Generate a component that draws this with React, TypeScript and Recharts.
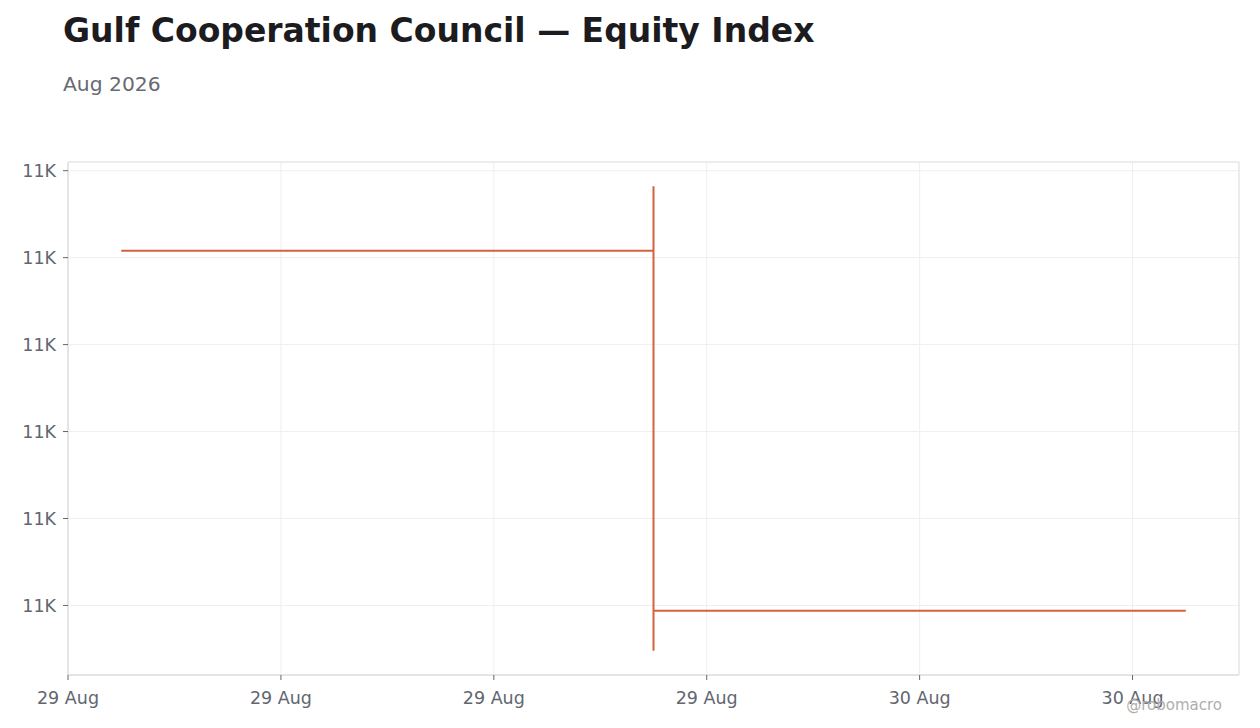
import React from "react";
import {
  ComposedChart, Line, XAxis, YAxis, CartesianGrid, ReferenceArea,
} from "recharts";

// one OHLC bar (index level), 29 Aug 2026
const barTimes = [Date.UTC(2026, 7, 29, 16, 30)];
const opens = [11204];
const highs = [11241];
const lows = [10974];
const closes = [10997];

const xTicks = [0, 6, 12, 18, 24, 30].map((h) => Date.UTC(2026, 7, 29, h));
const yTicks = [11000, 11050, 11100, 11150, 11200, 11250];
const MONTHS = ["Jan", "Feb", "Mar", "Apr", "May", "Jun", "Jul", "Aug", "Sep", "Oct", "Nov", "Dec"];

const HOUR = 3600 * 1000;
const ARM = 15 * HOUR; // open/close tick length
const X_DOMAIN = [Date.UTC(2026, 7, 29, 0), Date.UTC(2026, 7, 30, 9)];
const Y_DOMAIN = [10960, 11255];

const COLOR = "#d4623f";
const FONT = "'DejaVu Sans', sans-serif";

const wick = barTimes.flatMap((t, i) => [{ t, v: lows[i] }, { t, v: highs[i] }]);
const openArm = barTimes.flatMap((t, i) => [{ t: t - ARM, v: opens[i] }, { t, v: opens[i] }]);
const closeArm = barTimes.flatMap((t, i) => [{ t, v: closes[i] }, { t: t + ARM, v: closes[i] }]);

const fmtDate = (t: number) => {
  const d = new Date(t);
  return `${d.getUTCDate()} ${MONTHS[d.getUTCMonth()]}`;
};
const fmtK = (v: number) => `${Math.round(v / 1000)}K`;

export default function App() {
  const tick = { fill: "#62666f", fontSize: 17.5, fontFamily: FONT };
  return (
    <div style={{ position: "relative", width: 1260, height: 728, background: "#fff" }}>
      <style>{`body{margin:0}`}</style>
      <ComposedChart
        width={1260}
        height={728}
        margin={{ top: 162, right: 21, bottom: 0, left: 0 }}
      >
        <CartesianGrid stroke="#efefef" ticks={yTicks} />
        <XAxis
          dataKey="t"
          type="number"
          domain={X_DOMAIN}
          ticks={xTicks}
          tickFormatter={fmtDate}
          allowDataOverflow
          height={53}
          tick={tick}
          tickSize={5}
          tickMargin={12}
          stroke="#dcdcdc"
          tickLine={{ stroke: "#62666f" }}
        />
        <YAxis
          type="number"
          domain={Y_DOMAIN}
          ticks={yTicks}
          tickFormatter={fmtK}
          allowDataOverflow
          width={68}
          tick={tick}
          tickSize={5}
          tickMargin={7}
          stroke="#dcdcdc"
          tickLine={{ stroke: "#62666f" }}
        />
        <ReferenceArea
          x1={X_DOMAIN[0]}
          x2={X_DOMAIN[1]}
          y1={Y_DOMAIN[0]}
          y2={Y_DOMAIN[1]}
          fill="none"
          stroke="#e2e2e2"
          ifOverflow="visible"
        />
        <Line data={wick} dataKey="v" stroke={COLOR} strokeWidth={2} dot={false} activeDot={false} isAnimationActive={false} />
        <Line data={openArm} dataKey="v" stroke={COLOR} strokeWidth={2} dot={false} activeDot={false} isAnimationActive={false} />
        <Line data={closeArm} dataKey="v" stroke={COLOR} strokeWidth={2} dot={false} activeDot={false} isAnimationActive={false} />
      </ComposedChart>
      <svg width={1260} height={728} style={{ position: "absolute", left: 0, top: 0, pointerEvents: "none" }}>
        <text x={63} y={42} fontFamily={FONT} fontSize={33} fontWeight="bold" fill="#1b1b20">
          Gulf Cooperation Council — Equity Index
        </text>
        <text x={63} y={91} fontFamily={FONT} fontSize={20.3} fill="#676a72">
          Aug 2026
        </text>
        <text x={1222} y={710} textAnchor="end" fontFamily={FONT} fontSize={15} fill="#aeaeae">
          @robomacro
        </text>
      </svg>
    </div>
  );
}
